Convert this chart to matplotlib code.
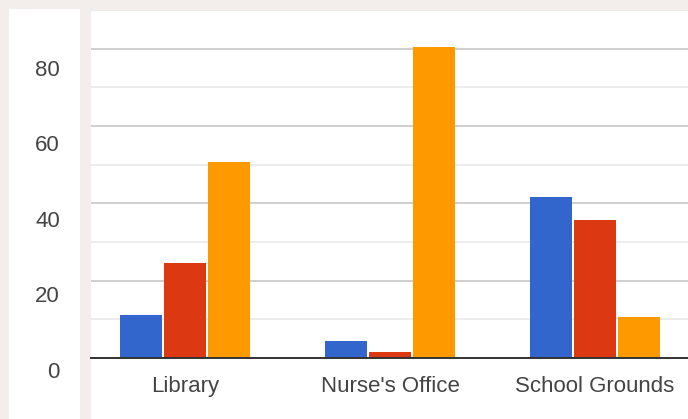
import matplotlib.pyplot as plt
import numpy as np

categories = ["Library", "Nurse's Office", "School Grounds"]
series_blue = [11, 4.5, 41.5]
series_red = [24.5, 1.6, 35.7]
series_orange = [50.6, 80.4, 10.7]
tick_values = [0, 20, 40, 60, 80]

colors = ["#3366cc", "#dc3912", "#ff9900"]
W, H = 688, 419

plt.rcParams["font.family"] = ["Liberation Sans", "DejaVu Sans"]
fig = plt.figure(figsize=(W / 100, H / 100), dpi=100, facecolor="#f3eeeb")

# left panel holding the value labels
ax_lbl = fig.add_axes([9 / W, 0, 71 / W, (H - 9) / H], facecolor="white")
ax_lbl.set_ylim(-12.98, 95.6)
ax_lbl.set_yticks(tick_values)
ax_lbl.set_yticklabels([str(v) for v in tick_values])
ax_lbl.tick_params(axis="y", length=0, pad=-36.7, labelsize=16, labelcolor="#444444")
ax_lbl.set_xticks([])
for s in ax_lbl.spines.values():
    s.set_visible(False)

# main plot panel
ax = fig.add_axes([91 / W, 0, (W - 91) / W, (H - 10) / H], facecolor="white")
ax.set_ylim(-15.8, 90)
ax.set_xlim(-0.4585, 2.4537)

x = np.arange(len(categories))
step, width = 0.2146, 0.205
for i, vals in enumerate([series_blue, series_red, series_orange]):
    ax.bar(x + (i - 1) * step, vals, width, color=colors[i], zorder=3)

ax.set_yticks(tick_values)
ax.set_yticks([10, 30, 50, 70, 90], minor=True)
ax.grid(axis="y", which="major", color="#cccccc", lw=1.3, zorder=0)
ax.grid(axis="y", which="minor", color="#ebebeb", lw=1.3, zorder=0)
ax.tick_params(axis="y", which="both", length=0, labelleft=False)

for side in ["left", "right", "top"]:
    ax.spines[side].set_visible(False)
ax.spines["bottom"].set_position(("data", 0))
ax.spines["bottom"].set_color("#333333")
ax.spines["bottom"].set_linewidth(1.4)
ax.spines["bottom"].set_zorder(4)

ax.set_xticks(x)
ax.set_xticklabels(categories)
ax.tick_params(axis="x", length=0, pad=13, labelsize=16, labelcolor="#444444")

fig.savefig("out.png", dpi=100, facecolor=fig.get_facecolor())
